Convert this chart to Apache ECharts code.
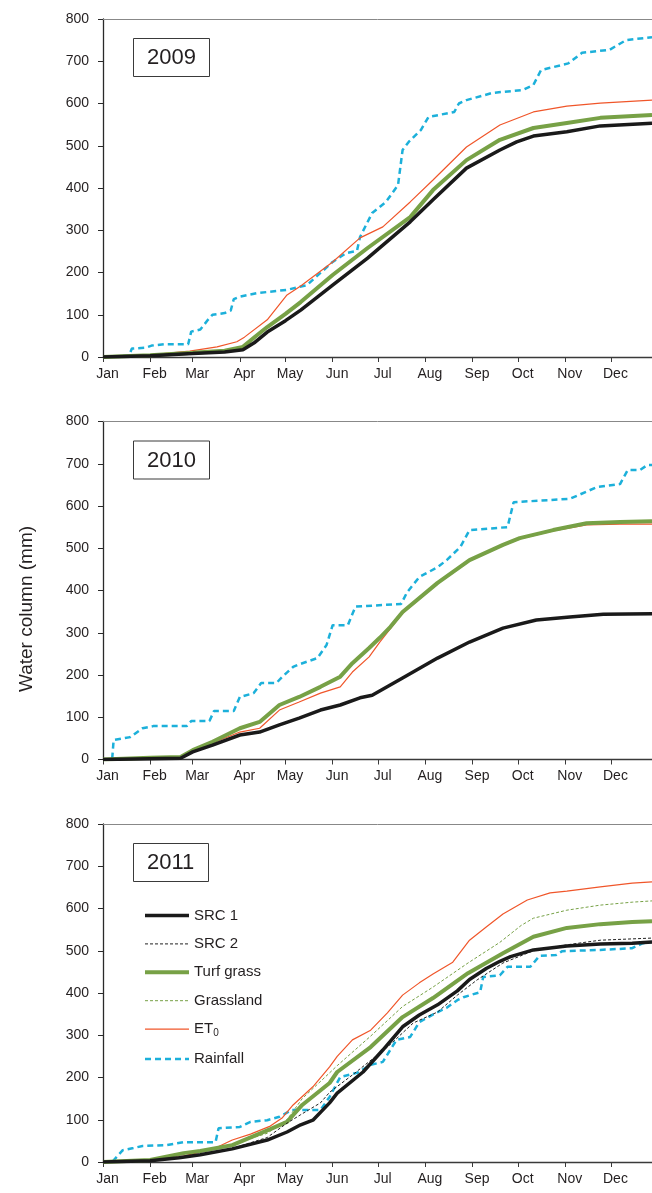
<!DOCTYPE html>
<html>
<head>
<meta charset="utf-8">
<script src="https://cdn.jsdelivr.net/npm/echarts@6/dist/echarts.min.js"></script>
<style>
  html, body { margin: 0; padding: 0; background: #fff; }
  #chart { width: 652px; height: 1193px; }
</style>
</head>
<body>
<div id="chart"></div>
<script>
// Month labels and the day of year on which each month starts
const MONTHS = ['Jan', 'Feb', 'Mar', 'Apr', 'May', 'Jun', 'Jul', 'Aug', 'Sep', 'Oct', 'Nov', 'Dec'];
const MONTH_START = [0, 31, 59, 90, 120, 151, 181, 212, 243, 273, 304, 334];
const YEARS = ['2009', '2010', '2011'];
const Y_TICKS = [0, 100, 200, 300, 400, 500, 600, 700, 800];

// Cumulative water column (mm) as [day of year, value]
// 2009
const src1_2009 = [[0,0],[31,3],[59,8],[80,12],[92,17],[100,35],[108,59],[120,86],[130,111],[151,170],[174,234],[202,320],[217,372],[239,447],[261,490],[272,509],[283,523],[305,533],[327,547],[361,553]];
const turf_2009 = [[0,0],[31,4],[59,10],[80,15],[92,24],[100,48],[108,71],[120,102],[130,130],[151,194],[174,258],[202,331],[217,395],[239,466],[261,514],[283,542],[305,554],[327,566],[361,573]];
const et0_2009 = [[0,0],[31,5],[57,14],[75,24],[88,36],[93,47],[108,88],[121,147],[130,168],[151,225],[169,282],[184,308],[202,367],[217,419],[239,497],[261,549],[283,580],[305,594],[327,601],[361,608]];
const rain_2009 = [[0,0],[10,2],[17,3],[19,20],[28,22],[32,27],[40,30],[56,30],[58,60],[64,65],[69,88],[72,100],[80,104],[84,110],[86,137],[90,143],[101,151],[121,159],[134,170],[143,199],[151,225],[160,246],[167,251],[169,284],[177,341],[186,367],[194,407],[197,490],[201,509],[209,537],[214,568],[231,580],[234,600],[239,608],[256,625],[276,632],[283,644],[288,679],[306,695],[315,720],[333,727],[344,750],[361,757]];

// 2010
const src1_2010 = [[0,0],[31,2],[51,3],[59,18],[72,34],[90,58],[103,65],[116,82],[129,98],[143,117],[156,129],[169,146],[177,152],[197,193],[220,240],[241,278],[263,311],[285,330],[307,337],[329,344],[361,345]];
const turf_2010 = [[0,0],[31,4],[51,6],[59,22],[72,42],[90,74],[103,89],[116,129],[129,148],[143,172],[156,196],[164,228],[175,264],[182,288],[189,314],[197,349],[220,418],[241,472],[263,508],[274,524],[296,543],[318,559],[340,562],[361,564]];
const et0_2010 = [[0,0],[31,1],[51,2],[59,18],[72,39],[90,65],[103,74],[116,117],[129,136],[143,157],[156,172],[164,207],[175,243],[182,278],[189,310],[197,346],[220,416],[241,470],[263,506],[274,522],[296,541],[318,555],[340,557],[361,557]];
const rain_2010 = [[0,0],[6,0],[7,46],[18,53],[26,74],[33,79],[55,79],[58,91],[70,91],[73,115],[86,115],[90,148],[99,157],[104,181],[114,181],[118,196],[125,219],[128,224],[141,240],[147,271],[151,318],[161,318],[166,362],[196,368],[200,396],[208,432],[220,455],[226,472],[235,503],[241,543],[266,550],[270,609],[307,617],[325,645],[340,652],[345,685],[353,685],[358,697],[361,697]];

// 2011
const src1_2011 = [[0,0],[31,3],[50,10],[64,17],[85,31],[108,52],[121,71],[130,88],[138,99],[149,140],[154,163],[171,213],[184,265],[197,320],[208,348],[220,372],[233,405],[241,432],[252,458],[261,475],[268,486],[283,502],[305,511],[327,516],[348,518],[361,521]];
const src2_2011 = [[0,0],[31,2],[64,18],[85,32],[108,58],[121,92],[130,112],[143,140],[149,165],[164,206],[187,272],[204,329],[220,355],[233,395],[246,431],[263,471],[283,500],[305,514],[327,525],[361,530]];
const turf_2011 = [[0,0],[31,5],[53,21],[64,26],[85,40],[110,78],[121,95],[131,135],[149,187],[154,213],[176,272],[197,343],[217,388],[240,447],[263,494],[283,533],[305,554],[327,563],[348,568],[361,570]];
const grass_2011 = [[0,0],[31,5],[53,22],[64,28],[85,42],[108,68],[121,100],[131,150],[154,228],[176,298],[197,368],[217,414],[240,471],[261,520],[275,560],[283,577],[305,596],[327,608],[348,615],[361,618]];
const et0_2011 = [[0,0],[31,2],[53,14],[64,24],[75,35],[85,52],[97,66],[110,85],[118,105],[125,135],[138,178],[149,225],[154,250],[164,289],[176,312],[187,353],[197,395],[208,424],[217,445],[230,473],[241,525],[252,556],[263,587],[279,620],[294,637],[305,641],[327,651],[348,660],[361,663]];
const rain_2011 = [[0,0],[6,0],[13,28],[20,33],[26,38],[42,40],[53,47],[74,47],[76,80],[90,83],[97,95],[108,99],[116,107],[124,123],[143,123],[149,154],[156,201],[167,211],[176,230],[184,237],[193,289],[202,296],[208,331],[219,353],[226,365],[233,383],[237,390],[248,402],[250,438],[261,442],[266,462],[281,462],[287,488],[298,490],[302,499],[327,502],[348,506],[355,518],[361,521]];

const FONT = "'Liberation Sans', Arial, sans-serif";
const TEXT = '#231f20';

// Line appearance for each series name
const STYLE = {
  'SRC 1':      { color: '#1a1a1a', width: 3.5, type: 'solid', z: 6 },
  'SRC 2':      { color: '#222222', width: 1,   type: [3, 2],  z: 5 },
  'Turf grass': { color: '#77a146', width: 4,   type: 'solid', z: 4 },
  'Grassland':  { color: '#77a146', width: 1,   type: [3, 2],  z: 3 },
  'ET0':        { color: '#f0562a', width: 1.2, type: 'solid', z: 2 },
  'Rainfall':   { color: '#1cb0da', width: 2.5, type: [6, 4],  z: 1 }
};
const LEGEND_NAMES = ['SRC 1', 'SRC 2', 'Turf grass', 'Grassland', 'ET0', 'Rainfall'];

const PANELS = [
  { 'SRC 1': src1_2009, 'Turf grass': turf_2009, 'ET0': et0_2009, 'Rainfall': rain_2009 },
  { 'SRC 1': src1_2010, 'Turf grass': turf_2010, 'ET0': et0_2010, 'Rainfall': rain_2010 },
  { 'SRC 1': src1_2011, 'SRC 2': src2_2011, 'Turf grass': turf_2011, 'Grassland': grass_2011, 'ET0': et0_2011, 'Rainfall': rain_2011 }
];

const GRID_TOPS = [19, 421.5, 824];
const GRID_H = 338;

const grids = [], xAxes = [], yAxes = [], series = [], titles = [];

PANELS.forEach((panel, i) => {
  grids.push({ left: 103, right: 0, top: GRID_TOPS[i], height: GRID_H, containLabel: false });
  // bottom month axis
  xAxes.push({
    type: 'value', gridIndex: i, min: 0, max: 361,
    axisLine: { show: true, onZero: false, lineStyle: { color: '#3a3a3a', width: 1.3 } },
    axisTick: { show: true, inside: false, length: 5, customValues: MONTH_START, lineStyle: { color: '#3a3a3a', width: 1 } },
    axisLabel: {
      customValues: MONTH_START, margin: 10, fontSize: 14, color: TEXT, fontFamily: FONT,
      padding: [0, 0, 0, 9],
      formatter: v => MONTHS[MONTH_START.indexOf(Math.round(v))] || ''
    },
    splitLine: { show: false }
  });
  // thin top frame line
  xAxes.push({
    type: 'value', gridIndex: i, min: 0, max: 361, position: 'top',
    axisLine: { show: true, onZero: false, lineStyle: { color: '#888', width: 1 } },
    axisTick: { show: false }, axisLabel: { show: false }, splitLine: { show: false }
  });
  yAxes.push({
    type: 'value', gridIndex: i, min: 0, max: 800, interval: 100,
    axisLine: { show: true, lineStyle: { color: '#2a2a2a', width: 1.3 } },
    axisTick: { show: true, length: 5, lineStyle: { color: '#2a2a2a', width: 1 } },
    axisLabel: { margin: 14, fontSize: 14, color: TEXT, fontFamily: FONT },
    splitLine: { show: false }
  });
  titles.push({
    text: YEARS[i], left: 133, top: GRID_TOPS[i] + 19,
    padding: [9, 14, 8, 14],
    borderColor: '#3a3a3a', borderWidth: 1,
    textStyle: { fontSize: 22, fontWeight: 'normal', color: TEXT, fontFamily: FONT }
  });
  Object.keys(panel).forEach(name => {
    const s = STYLE[name];
    series.push({
      type: 'line', name: name, data: panel[name],
      xAxisIndex: i * 2, yAxisIndex: i,
      showSymbol: false, symbol: 'none', animation: false, z: s.z,
      lineStyle: { color: s.color, width: s.width, type: s.type },
      itemStyle: { color: s.color },
      emphasis: { disabled: true }
    });
  });
});

const chart = echarts.init(document.getElementById('chart'), null, { renderer: 'canvas' });
chart.setOption({
  animation: false,
  backgroundColor: '#fff',
  title: titles,
  grid: grids,
  xAxis: xAxes,
  yAxis: yAxes,
  legend: {
    show: true,
    orient: 'vertical', left: 143, top: 908, padding: 0,
    itemWidth: 44, itemHeight: 14, itemGap: 13.4,
    selectedMode: false,
    data: LEGEND_NAMES.map(n => ({
      name: n,
      lineStyle: { color: STYLE[n].color, width: STYLE[n].width, type: STYLE[n].type },
      itemStyle: { color: STYLE[n].color, opacity: 0 }
    })),
    formatter: n => n === 'ET0' ? 'ET{sub|0}' : n,
    textStyle: {
      fontSize: 15, color: TEXT, fontFamily: FONT,
      rich: { sub: { fontSize: 10, color: TEXT, fontFamily: FONT, padding: [8, 0, 0, 0] } }
    }
  },
  graphic: [{
    type: 'text', x: 27, y: 609, rotation: Math.PI / 2,
    style: { text: 'Water column (mm)', fontSize: 19, fill: TEXT, fontFamily: FONT, align: 'center', verticalAlign: 'middle' }
  }],
  series: series
});
</script>
</body>
</html>
